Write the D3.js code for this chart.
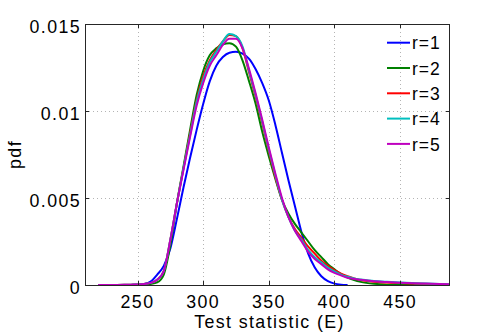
<!DOCTYPE html>
<html><head><meta charset="utf-8">
<script src="https://cdn.jsdelivr.net/npm/d3@7"></script>
<style>
html,body{margin:0;padding:0;background:#fff;}
text{font-family:"Liberation Sans",Arial,Helvetica,sans-serif;fill:#000;}
</style></head>
<body><svg id="chart" width="498" height="332"></svg>
<script>
// ---- data ----
const xs = [220,230,240,245,250,255,260,265,270,275,280,285,290,295,300,305,310,315,320,325,330,335,340,345,350,355,360,365,370,375,380,385,390,395,400,405,410,415,420,430,440,450,460,470,480,488];
const r1 = [null,null,0,0,0.00002,0.00006,0.0002,0.0006,0.0011,0.0021,0.0038,0.0056,0.0073,0.0089,0.0104,0.0117,0.0126,0.0131,0.01335,0.0134,0.0133,0.0130,0.0124,0.0116,0.0106,0.0092,0.0076,0.0060,0.0045,0.0030,0.0018,0.0010,0.0005,0.00022,0.00008,0.00002,0,null,null,null,null,null,null,null,null,null];
const r2 = [null,0,0,0,0.00001,0.00003,0.00006,0.00015,0.0006,0.0023,0.0047,0.0068,0.0089,0.0109,0.0123,0.0132,0.0136,0.01383,0.0139,0.0137,0.0129,0.0117,0.0104,0.0088,0.0074,0.0061,0.0049,0.0041,0.0035,0.0030,0.0025,0.0020,0.0016,0.0012,0.0009,0.00062,0.00042,0.00028,0.00018,0.00007,0.00002,0.00001,0,0,0,null];
const r3 = [0,0,0.00001,0.00002,0.00003,0.00006,0.00012,0.0003,0.0008,0.0026,0.0047,0.0067,0.0087,0.0106,0.0120,0.0129,0.0135,0.0140,0.01437,0.0143,0.0136,0.0122,0.0108,0.0093,0.0077,0.0062,0.0049,0.0039,0.0032,0.0027,0.0022,0.0018,0.0014,0.0011,0.00085,0.00065,0.0005,0.00037,0.00028,0.00019,0.00014,0.00011,0.00008,0.00006,0.00004,0.00003];
const r4 = [0,0,0.00001,0.00002,0.00003,0.00006,0.00012,0.0003,0.0008,0.0026,0.0047,0.0067,0.0086,0.0105,0.0118,0.0128,0.0134,0.0140,0.01443,0.0143,0.0137,0.0123,0.0109,0.0094,0.0078,0.0063,0.0049,0.0039,0.0031,0.0026,0.0020,0.0016,0.0013,0.0010,0.00078,0.0006,0.00047,0.00038,0.00031,0.00023,0.00018,0.00014,0.00011,0.00008,0.00006,0.00005];
const r5 = [0,0,0.00001,0.00002,0.00003,0.00006,0.00012,0.0003,0.0008,0.0026,0.0047,0.0066,0.0085,0.0103,0.0116,0.0126,0.0132,0.0138,0.01415,0.01415,0.0136,0.0124,0.0110,0.0095,0.0079,0.0064,0.0050,0.0039,0.0031,0.0025,0.0019,0.0015,0.0012,0.0009,0.0007,0.00055,0.00042,0.00035,0.0003,0.00022,0.00017,0.00013,0.0001,0.00008,0.00006,0.00005];
const seriesNames = ["r=1","r=2","r=3","r=4","r=5"];
const seriesColors = ["#0000ff","#008000","#ff0000","#00bfbf","#bf00bf"];
const xTicks = [250,300,350,400,450];
const yTicks = [0,0.005,0.01,0.015];
const yTickLabels = ["0","0.005","0.01","0.015"];
const xLabel = "Test statistic (E)";
const yLabel = "pdf";

// ---- layout ----
const svg = d3.select("#chart");
const L = 85, R = 450, T = 24, B = 285;
const x = d3.scaleLinear().domain([210, 488]).range([L, R]);
const y = d3.scaleLinear().domain([0, 0.015]).range([B, T]);
const fs = 17.8, ls = 1.4;

// grid
const grid = svg.append("g").attr("stroke","#b4b4b4").attr("stroke-width",1).attr("stroke-dasharray","1,3");
xTicks.forEach(t => grid.append("line").attr("x1",Math.round(x(t))+0.5).attr("x2",Math.round(x(t))+0.5).attr("y1",T).attr("y2",B));
yTicks.filter(t=>t>0 && t<0.015).forEach(t => grid.append("line").attr("x1",L).attr("x2",R).attr("y1",Math.round(y(t))+0.5).attr("y2",Math.round(y(t))+0.5));

// lines
const allSeries = [r1,r2,r3,r4,r5];
const line = d3.line()
  .defined(d => d[1] !== null)
  .x(d => x(d[0])).y(d => y(d[1]))
  .curve(d3.curveMonotoneX);
const plot = svg.append("g");
allSeries.forEach((s,i) => {
  plot.append("path").datum(xs.map((v,j)=>[v,s[j]]))
    .attr("d", line).attr("fill","none")
    .attr("stroke", seriesColors[i]).attr("stroke-width",2)
    .attr("stroke-linejoin","round");
});

// frame
const frame = svg.append("g").attr("stroke","#262626").attr("stroke-width",1).attr("fill","none");
frame.append("rect").attr("x",L+0.5).attr("y",T+0.5).attr("width",R-L-1).attr("height",B-T);
xTicks.forEach(t => {
  const px = Math.round(x(t))+0.5;
  frame.append("line").attr("x1",px).attr("x2",px).attr("y1",B).attr("y2",B-4);
  frame.append("line").attr("x1",px).attr("x2",px).attr("y1",T).attr("y2",T+4);
});
yTicks.forEach(t => {
  const py = Math.round(y(t))+0.5;
  frame.append("line").attr("x1",L).attr("x2",L+4).attr("y1",py).attr("y2",py);
  frame.append("line").attr("x1",R).attr("x2",R-4).attr("y1",py).attr("y2",py);
});

// tick labels
svg.append("g").selectAll("text").data(xTicks).join("text")
  .attr("x", d => x(d)).attr("y", 307.5)
  .attr("text-anchor","middle").attr("font-size",fs).attr("letter-spacing",ls)
  .text(d => d);
svg.append("g").selectAll("text").data(yTicks).join("text")
  .attr("x", 81).attr("y", d => y(d) + 8.5)
  .attr("text-anchor","end").attr("font-size",fs).attr("letter-spacing",ls)
  .text((d,i) => yTickLabels[i]);

// axis labels
svg.append("text").attr("x",(L+R)/2+2).attr("y",327.5)
  .attr("text-anchor","middle").attr("font-size",fs).attr("letter-spacing",ls).text(xLabel);
svg.append("text").attr("transform",`translate(21,${(T+B)/2}) rotate(-90)`)
  .attr("text-anchor","middle").attr("font-size",fs).attr("letter-spacing",ls).text(yLabel);

// legend
const leg = svg.append("g");
seriesNames.forEach((n,i) => {
  const ly = 42.7 + i*25.3;
  leg.append("line").attr("x1",387).attr("x2",410).attr("y1",ly).attr("y2",ly)
    .attr("stroke",seriesColors[i]).attr("stroke-width",2);
  leg.append("text").attr("x",412).attr("y",ly+6.6).attr("font-size",17.5).attr("letter-spacing",1).text(n);
});
</script></body></html>
